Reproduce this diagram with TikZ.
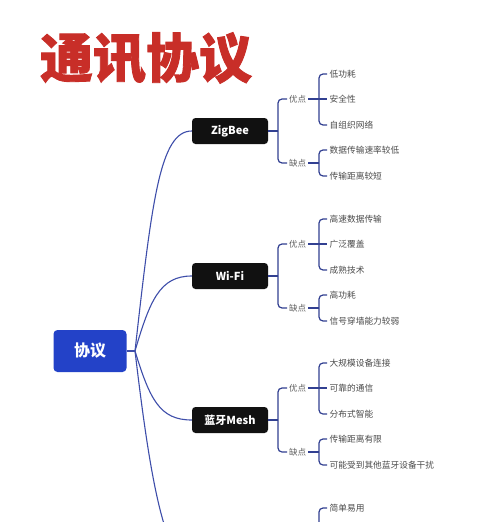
\documentclass[tikz,border=0pt]{standalone}
\usepackage{fontspec}
\setmainfont{Noto Sans CJK SC}
\definecolor{titlered}{RGB}{200,46,40}
\definecolor{halo}{RGB}{250,236,222}
\definecolor{rootblue}{RGB}{35,66,200}
\definecolor{linkblue}{RGB}{62,78,170}
\definecolor{brnavy}{RGB}{50,64,145}
\definecolor{boxblack}{RGB}{17,17,17}
\definecolor{itemgray}{RGB}{75,75,75}
\definecolor{taggray}{RGB}{95,95,95}
\tikzset{
  title/.style={text=titlered,font=\fontsize{53}{53}\selectfont\bfseries\addfontfeature{FakeBold=1.6},inner sep=0pt},
  rootbox/.style={fill=rootblue,rounded corners=4pt,minimum width=73pt,minimum height=42pt,text=white,font=\fontsize{16}{16}\selectfont\bfseries},
  pbox/.style={fill=boxblack,rounded corners=3.5pt,minimum width=76pt,minimum height=26pt,text=white,font=\fontsize{11}{11}\selectfont\bfseries},
  tag/.style={anchor=west,inner sep=2pt,text=taggray,font=\fontsize{8.5}{9}\selectfont},
  item/.style={anchor=west,inner sep=2.5pt,text=itemgray,font=\fontsize{8.7}{9}\selectfont},
  link/.style={draw=linkblue,line width=1.1pt},
  br/.style={draw=brnavy,line width=1.2pt,rounded corners=4pt},
}
\newcommand\protobranch[8]{%
  \node[pbox] (#1) at (230,#2) {#3};
  \coordinate (#1j) at (278,#2);
  \node[tag] (#1p) at (287,{#2-32}) {优点};
  \node[tag] (#1n) at (287,{#2+32}) {缺点};
  \draw[br] (#1.east) -- (#1j);
  \draw[br] (#1p.west) -| (#1j);
  \draw[br] (#1n.west) -| (#1j);
  \coordinate (#1pj) at (319,{#2-32});
  \coordinate (#1nj) at (319,{#2+32});
  \node[item] (#1pa) at (327,{#2-57}) {#4};
  \node[item] (#1pb) at (327,{#2-32}) {#5};
  \node[item] (#1pc) at (327,{#2-6}) {#6};
  \node[item] (#1na) at (327,{#2+19}) {#7};
  \node[item] (#1nb) at (327,{#2+45}) {#8};
  \draw[br] (#1p.east) -- (#1pj) -- (#1pb.west);
  \draw[br] (#1pa.west) -| (#1pj);
  \draw[br] (#1pc.west) -| (#1pj);
  \draw[br] (#1n.east) -- (#1nj);
  \draw[br] (#1na.west) -| (#1nj);
  \draw[br] (#1nb.west) -| (#1nj);
}
\begin{document}
\begin{tikzpicture}[x=1pt,y=-1pt]
\useasboundingbox[fill=white] (0,0) rectangle (500,522);
\clip (0,0) rectangle (500,522);
\node[title] (title) at (146,58) {通讯协议};
\node[rootbox] (root) at (90,351) {协议};
\coordinate (rj) at (135,351);
\draw[link] (root.east) -- (rj);
\protobranch{zb}{131}{ZigBee}{低功耗}{安全性}{自组织网络}{数据传输速率较低}{传输距离较短}
\protobranch{wf}{276}{Wi-Fi}{高速数据传输}{广泛覆盖}{成熟技术}{高功耗}{信号穿墙能力较弱}
\protobranch{bt}{420}{蓝牙Mesh}{大规模设备连接}{可靠的通信}{分布式智能}{传输距离有限}{可能受到其他蓝牙设备干扰}
\draw[link] (rj) .. controls (152,200) and (160,131) .. (zb.west);
\draw[link] (rj) .. controls (150,300) and (160,276) .. (wf.west);
\draw[link] (rj) .. controls (150,400) and (160,420) .. (bt.west);
\coordinate (fourth) at (192,565);
\draw[link] (rj) .. controls (148,460) and (163,565) .. (fourth);
\coordinate (fourthpj) at (319,533);
\node[item] (fourthpa) at (327,508) {简单易用};
\draw[br] (fourthpa.west) -| (fourthpj);
\end{tikzpicture}
\end{document}
